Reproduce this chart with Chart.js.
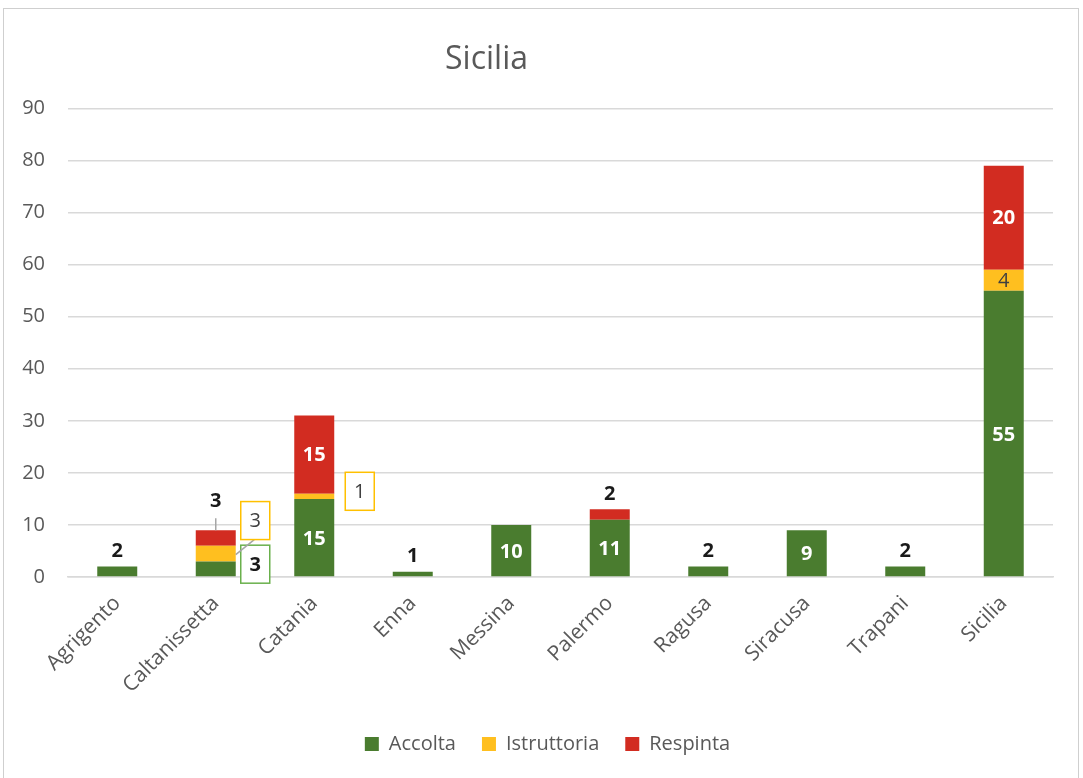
<!DOCTYPE html>
<html>
<head>
<meta charset="utf-8">
<script src="https://cdn.jsdelivr.net/npm/chart.js@4.4.1/dist/chart.umd.min.js"></script>
<style>
html,body{margin:0;padding:0;background:#fff;}
#wrap{position:relative;width:1083px;height:778px;}
#frame{position:absolute;left:3px;top:8px;width:1076px;height:780px;border:1.5px solid #cfcfcf;box-sizing:border-box;}
canvas{position:absolute;left:0;top:0;}
</style>
</head>
<body>
<div id="wrap">
<div id="frame"></div>
<canvas id="c" width="1083" height="778"></canvas>
</div>
<script>
const categories = ["Agrigento","Caltanissetta","Catania","Enna","Messina","Palermo","Ragusa","Siracusa","Trapani","Sicilia"];
const accolta     = [2, 3, 15, 1, 10, 11, 2, 9, 2, 55];
const istruttoria = [0, 3, 1, 0, 0, 0, 0, 0, 0, 4];
const respinta    = [0, 3, 15, 0, 0, 2, 0, 0, 0, 20];
const yTicks = [0,10,20,30,40,50,60,70,80,90];

const GREEN = "#4a7c2f", YELLOW = "#ffbf1f", RED = "#d22c21";
const FONT = "'Open Sans', 'Noto Sans', sans-serif";

// label style overrides (positions relative to bar, in pixels)
const callouts = {
  "1-0": {type:"box", dx:39.5, dy:-5, color:"#6ab04c", bold:true, textColor:"#1a1a1a"},
  "1-1": {type:"box", dx:39.5, dy:-33, color:"#ffc000", bold:false, textColor:"#404040", leader:true},
  "1-2": {type:"above", lift:36, leader:true},
  "2-1": {type:"box", dx:45.5, dy:-5, color:"#ffc000", bold:false, textColor:"#404040"}
};

const shiftPlugin = {
  id: "shift",
  afterLayout(chart) {
    const t = chart.titleBlock, l = chart.legend;
    if (t) { t.left -= 44; t.right -= 44; }
    if (l) { l.left += 17; l.right += 17; }
  }
};

const labelPlugin = {
  id: "labels",
  afterDatasetsDraw(chart) {
    const ctx = chart.ctx;
    const xs = chart.scales.x, ys = chart.scales.y;
    const sets = chart.data.datasets;
    ctx.save();
    ctx.textAlign = "center";
    ctx.textBaseline = "middle";
    categories.forEach((cat, i) => {
      let base = 0;
      const total = sets.reduce((s, d) => s + d.data[i], 0);
      sets.forEach((ds, di) => {
        const v = ds.data[i];
        const y0 = ys.getPixelForValue(base);
        const y1 = ys.getPixelForValue(base + v);
        base += v;
        if (!v) return;
        const x = xs.getPixelForValue(i);
        const mid = (y0 + y1) / 2;
        const h = y0 - y1;
        const co = callouts[i + "-" + di];
        if (co && co.type === "box") {
          const bx = x + co.dx, by = mid + co.dy;
          const w = 29, hh = 38;
          if (co.leader) {
            ctx.strokeStyle = "#a6a6a6"; ctx.lineWidth = 1.5;
            ctx.beginPath(); ctx.moveTo(bx - 1, by + hh/2); ctx.lineTo(x + 20, mid + 1); ctx.stroke();
          }
          ctx.strokeStyle = co.color; ctx.lineWidth = 1.5;
          ctx.fillStyle = "#fff";
          ctx.fillRect(bx - w/2, by - hh/2, w, hh);
          ctx.strokeRect(bx - w/2, by - hh/2, w, hh);
          ctx.fillStyle = co.textColor;
          ctx.font = (co.bold ? "bold " : "") + "20px " + FONT;
          ctx.fillText(String(v), bx, by + 1);
          return;
        }
        if (co && co.type === "above") {
          const top = ys.getPixelForValue(total);
          ctx.strokeStyle = "#a6a6a6"; ctx.lineWidth = 1.5;
          ctx.beginPath(); ctx.moveTo(x, top - 12); ctx.lineTo(x, top); ctx.stroke();
          ctx.fillStyle = "#1a1a1a";
          ctx.font = "bold 20px " + FONT;
          ctx.fillText(String(v), x, top - co.lift + 7);
          return;
        }
        if (h >= 30) {
          ctx.fillStyle = "#ffffff";
          ctx.font = "bold 20px " + FONT;
          ctx.fillText(String(v), x, mid + 1);
        } else if (h >= 18) {
          ctx.fillStyle = "#404040";
          ctx.font = "20px " + FONT;
          ctx.fillText(String(v), x, mid + 1);
        } else {
          const top = ys.getPixelForValue(total);
          ctx.fillStyle = "#1a1a1a";
          ctx.font = "bold 20px " + FONT;
          ctx.fillText(String(v), x, top - 15);
        }
      });
    });
    ctx.restore();
  }
};

new Chart(document.getElementById("c"), {
  type: "bar",
  data: {
    labels: categories,
    datasets: [
      {label: "Accolta", data: accolta, backgroundColor: GREEN},
      {label: "Istruttoria", data: istruttoria, backgroundColor: YELLOW},
      {label: "Respinta", data: respinta, backgroundColor: RED}
    ]
  },
  options: {
    responsive: false,
    animation: false,
    events: [],
    layout: {padding: {left: 8, right: 30, top: 12, bottom: 14}},
    datasets: {bar: {barPercentage: 0.406, categoryPercentage: 1}},
    scales: {
      x: {
        stacked: true,
        grid: {display: false, drawTicks: false},
        border: {display: true, color: "#d9d9d9", width: 1.5},
        ticks: {color: "#595959", font: {family: FONT, size: 21}, minRotation: 45, maxRotation: 45, padding: 14},
        afterFit(s) { s.height = 131; }
      },
      y: {
        stacked: true,
        min: 0, max: 90,
        afterBuildTicks(s) { s.ticks = yTicks.map(v => ({value: v})); },
        grid: {color: "#d9d9d9", lineWidth: 1.5, drawTicks: false},
        border: {display: false},
        ticks: {color: "#595959", font: {family: FONT, size: 20}, padding: 23},
        afterFit(s) { s.width = 60; }
      }
    },
    plugins: {
      title: {display: true, text: "Sicilia", color: "#595959", font: {family: FONT, size: 32, weight: "normal"}, padding: {top: 29, bottom: 29}},
      legend: {
        position: "bottom",
        labels: {color: "#595959", font: {family: FONT, size: 20}, boxWidth: 14, boxHeight: 14, padding: 26}
      },
      tooltip: {enabled: false}
    }
  },
  plugins: [shiftPlugin, labelPlugin]
});
</script>
</body>
</html>
